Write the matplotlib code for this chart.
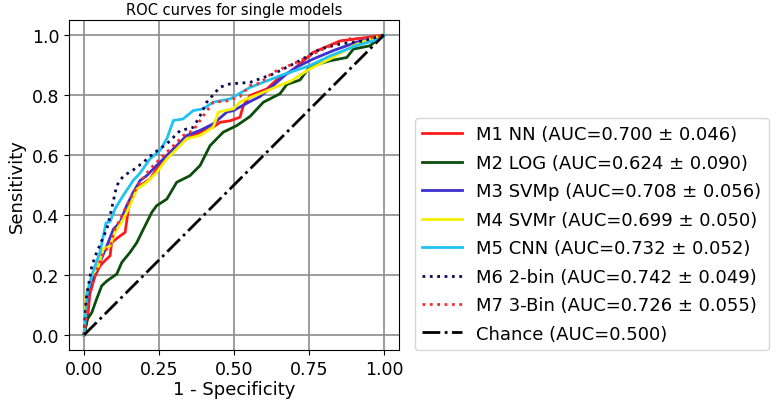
import numpy as np
import matplotlib
matplotlib.use('Agg')
import matplotlib.pyplot as plt

# ROC points (false positive rate, true positive rate)
nn_fpr = [0, 0.011, 0.02, 0.037, 0.053, 0.064, 0.087, 0.092, 0.12, 0.137, 0.148, 0.164, 0.187, 0.22, 0.242,
          0.276, 0.309, 0.342, 0.387, 0.431, 0.453, 0.487, 0.52, 0.531, 0.553, 0.609, 0.653, 0.687, 0.764, 0.853, 0.93, 1.0]
nn_tpr = [0, 0.052, 0.14, 0.197, 0.23, 0.242, 0.264, 0.308, 0.33, 0.342, 0.42, 0.475, 0.498, 0.52, 0.553,
          0.598, 0.631, 0.654, 0.676, 0.693, 0.709, 0.714, 0.726, 0.764, 0.798, 0.82, 0.86, 0.876, 0.942, 0.98, 0.99, 1.0]

log_fpr = [0, 0.011, 0.026, 0.042, 0.059, 0.076, 0.109, 0.126, 0.153, 0.176, 0.198, 0.226, 0.242, 0.276, 0.309,
           0.353, 0.387, 0.42, 0.464, 0.509, 0.553, 0.598, 0.653, 0.676, 0.72, 0.753, 0.82, 0.876, 0.898, 0.953, 1.0]
log_tpr = [0, 0.052, 0.075, 0.12, 0.164, 0.18, 0.203, 0.242, 0.275, 0.308, 0.353, 0.409, 0.431, 0.453, 0.509,
           0.531, 0.565, 0.631, 0.676, 0.698, 0.728, 0.776, 0.804, 0.835, 0.85, 0.895, 0.914, 0.925, 0.953, 0.964, 1.0]

svmp_fpr = [0, 0.007, 0.02, 0.037, 0.053, 0.076, 0.098, 0.12, 0.142, 0.164, 0.187, 0.209, 0.242, 0.276, 0.309,
            0.342, 0.387, 0.431, 0.476, 0.498, 0.553, 0.587, 0.631, 0.676, 0.709, 0.764, 0.831, 0.909, 1.0]
svmp_tpr = [0, 0.097, 0.164, 0.208, 0.242, 0.297, 0.353, 0.375, 0.431, 0.475, 0.515, 0.531, 0.565, 0.598, 0.631,
            0.665, 0.682, 0.704, 0.743, 0.748, 0.778, 0.795, 0.832, 0.871, 0.893, 0.92, 0.948, 0.976, 1.0]

svmr_fpr = [0, 0.007, 0.026, 0.048, 0.064, 0.087, 0.103, 0.131, 0.153, 0.176, 0.209, 0.242, 0.276, 0.309, 0.342,
            0.387, 0.431, 0.448, 0.498, 0.52, 0.542, 0.598, 0.653, 0.687, 0.753, 0.82, 0.898, 0.953, 1.0]
svmr_tpr = [0, 0.14, 0.197, 0.23, 0.286, 0.297, 0.342, 0.386, 0.431, 0.486, 0.509, 0.542, 0.587, 0.62, 0.654,
            0.665, 0.693, 0.743, 0.754, 0.776, 0.787, 0.809, 0.832, 0.845, 0.887, 0.92, 0.964, 0.987, 1.0]

cnn_fpr = [0, 0.011, 0.026, 0.053, 0.073, 0.087, 0.103, 0.13, 0.164, 0.187, 0.22, 0.253, 0.276, 0.298, 0.33,
           0.364, 0.398, 0.43, 0.487, 0.553, 0.653, 0.75, 0.82, 0.909, 0.987, 1.0]
cnn_tpr = [0, 0.14, 0.2, 0.275, 0.373, 0.378, 0.42, 0.464, 0.515, 0.54, 0.587, 0.615, 0.654, 0.715, 0.72,
           0.748, 0.754, 0.776, 0.787, 0.825, 0.864, 0.897, 0.93, 0.965, 0.987, 1.0]

bin2_fpr = [0, 0.007, 0.026, 0.042, 0.076, 0.087, 0.109, 0.131, 0.164, 0.198, 0.231, 0.276, 0.32, 0.364, 0.387,
            0.409, 0.453, 0.487, 0.553, 0.603, 0.631, 0.709, 0.787, 0.853, 0.93, 1.0]
bin2_tpr = [0, 0.12, 0.23, 0.275, 0.353, 0.398, 0.498, 0.53, 0.55, 0.576, 0.605, 0.637, 0.681, 0.692, 0.731,
            0.776, 0.826, 0.837, 0.842, 0.86, 0.87, 0.909, 0.953, 0.97, 0.98, 1.0]

bin3_fpr = [0, 0.011, 0.026, 0.042, 0.064, 0.087, 0.103, 0.126, 0.153, 0.187, 0.22, 0.253, 0.298, 0.331, 0.364,
            0.398, 0.431, 0.476, 0.52, 0.553, 0.587, 0.631, 0.709, 0.798, 0.876, 0.95, 1.0]
bin3_tpr = [0, 0.086, 0.164, 0.214, 0.275, 0.297, 0.353, 0.398, 0.453, 0.509, 0.553, 0.587, 0.631, 0.665, 0.682,
            0.731, 0.776, 0.78, 0.795, 0.831, 0.84, 0.876, 0.909, 0.953, 0.987, 0.99, 1.0]

labels = ['M1 NN (AUC=0.700 \u00b1 0.046)',
          'M2 LOG (AUC=0.624 \u00b1 0.090)',
          'M3 SVMp (AUC=0.708 \u00b1 0.056)',
          'M4 SVMr (AUC=0.699 \u00b1 0.050)',
          'M5 CNN (AUC=0.732 \u00b1 0.052)',
          'M6 2-bin (AUC=0.742 \u00b1 0.049)',
          'M7 3-Bin (AUC=0.726 \u00b1 0.055)']
chance_label = 'Chance (AUC=0.500)'

curves = [(nn_fpr, nn_tpr), (log_fpr, log_tpr), (svmp_fpr, svmp_tpr), (svmr_fpr, svmr_tpr),
          (cnn_fpr, cnn_tpr), (bin2_fpr, bin2_tpr), (bin3_fpr, bin3_tpr)]
colors = ['#ff1a1a', '#0b4d0b', '#3f2fcf', '#f5ef00', '#1ec3f2', '#0a0a55', '#f03030']
styles = ['-', '-', '-', '-', '-', ':', ':']

fig = plt.figure(figsize=(7.8, 4.06), dpi=100)
ax = fig.add_axes([0.0885, 0.1355, 0.423, 0.8128])

for (fpr, tpr), lab, col, ls in zip(curves, labels, colors, styles):
    ax.plot(fpr, tpr, color=col, linestyle=ls, linewidth=2, label=lab)
ax.plot([0, 1], [0, 1], color='black', linestyle='-.', linewidth=2, label=chance_label)

ax.set_xticks([0, 0.25, 0.5, 0.75, 1.0])
ax.set_yticks([0, 0.2, 0.4, 0.6, 0.8, 1.0])
ax.tick_params(labelsize=12.5)
ax.grid(True, color='#8c8c8c', linewidth=1.2)
ax.set_xlabel('1 - Specificity', fontsize=13, labelpad=2)
ax.set_ylabel('Sensitivity', fontsize=13)
ax.set_title('ROC curves for single models', fontsize=10.5, pad=4)

ax.legend(loc='lower left', bbox_to_anchor=(1.048, 0), borderaxespad=0,
          fontsize=13, handlelength=2.2, labelspacing=0.58)

plt.savefig('out.png', dpi=100)
